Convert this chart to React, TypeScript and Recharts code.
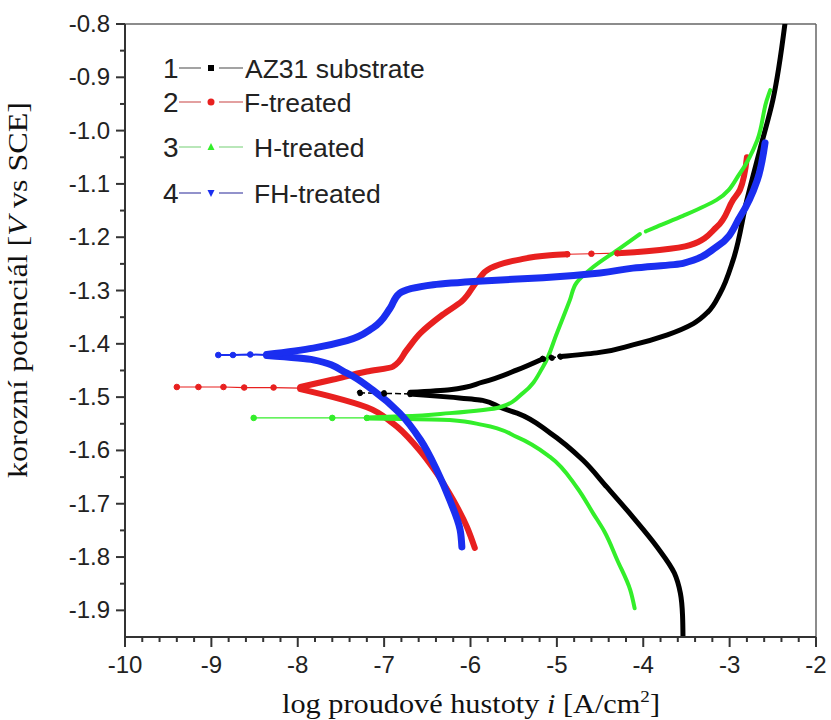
import { Line, LineChart, ReferenceLine, XAxis, YAxis } from "recharts";

// Tafel curves, log i [A/cm2] vs potential [V vs SCE].
// Each sample is split into cathodic branch (from Ecorr down) and anodic branch (from Ecorr up).
const az31CathLogI = [-6.7, -6.24, -5.86, -5.66, -5.46, -5.08, -4.7, -4.42, -4.12, -3.84, -3.64, -3.57, -3.545, -3.54];
const az31CathE = [-1.494, -1.5, -1.506, -1.519, -1.53, -1.567, -1.618, -1.669, -1.725, -1.781, -1.83, -1.868, -1.91, -1.95];
const az31AnLowLogI = [-6.7, -6.24, -5.86, -5.46, -5.16];
const az31AnLowE = [-1.491, -1.486, -1.472, -1.449, -1.428];
const az31GapLogI = [-5.16, -5.06, -4.96];
const az31GapE = [-1.428, -1.426, -1.424];
const az31AnHighLogI = [-4.96, -4.54, -4.12, -3.72, -3.42, -3.25, -3.11, -2.96, -2.8, -2.65, -2.5, -2.36];
const az31AnHighE = [-1.424, -1.417, -1.402, -1.383, -1.362, -1.34, -1.305, -1.243, -1.13, -1.036, -0.943, -0.8];
const az31SpikeLogI = [-6.7, -7.0, -7.28];
const az31SpikeE = [-1.494, -1.493, -1.492];

const fCathLogI = [-7.97, -7.59, -7.2, -6.9, -6.62, -6.39, -6.2, -6.04, -5.95];
const fCathE = [-1.485, -1.5, -1.519, -1.549, -1.594, -1.643, -1.693, -1.744, -1.783];
const fAnLowLogI = [-7.97, -7.59, -7.2, -6.9, -6.74, -6.58, -6.32, -6.1, -5.92, -5.77, -5.46, -5.08, -4.88];
const fAnLowE = [-1.481, -1.467, -1.452, -1.443, -1.412, -1.38, -1.345, -1.32, -1.282, -1.258, -1.243, -1.234, -1.232];
const fGapLogI = [-4.88, -4.6, -4.3];
const fGapE = [-1.232, -1.231, -1.23];
const fAnHighLogI = [-4.3, -4.1, -3.81, -3.46, -3.15, -2.96, -2.88, -2.8];
const fAnHighE = [-1.23, -1.228, -1.224, -1.215, -1.181, -1.13, -1.111, -1.05];
const fSpikeLogI = [-7.97, -8.28, -8.62, -8.86, -9.15, -9.4];
const fSpikeE = [-1.483, -1.482, -1.482, -1.481, -1.481, -1.481];

const hCathLogI = [-7.2, -6.8, -6.24, -5.86, -5.46, -5.08, -4.77, -4.58, -4.45, -4.3, -4.15, -4.1];
const hCathE = [-1.54, -1.541, -1.543, -1.552, -1.575, -1.612, -1.669, -1.718, -1.752, -1.806, -1.862, -1.896];
const hAnLowLogI = [-7.2, -6.8, -6.24, -5.66, -5.39, -5.16, -5.0, -4.85, -4.77, -4.58, -4.3, -4.04];
const hAnLowE = [-1.538, -1.536, -1.53, -1.519, -1.492, -1.443, -1.38, -1.318, -1.285, -1.256, -1.224, -1.194];
const hAnHighLogI = [-3.97, -3.84, -3.54, -3.15, -2.88, -2.68, -2.57, -2.53];
const hAnHighE = [-1.189, -1.18, -1.16, -1.13, -1.08, -1.018, -0.943, -0.924];
const hSpikeLogI = [-7.2, -7.6, -8.51];
const hSpikeE = [-1.539, -1.539, -1.539];

const fhCathLogI = [-8.36, -7.82, -7.43, -7.13, -6.82, -6.58, -6.39, -6.24, -6.12, -6.1];
const fhCathE = [-1.422, -1.43, -1.455, -1.487, -1.53, -1.58, -1.637, -1.693, -1.749, -1.781];
const fhAnLogI = [-8.36, -7.82, -7.43, -7.13, -6.93, -6.82, -6.43, -5.86, -5.16, -4.5, -4.12, -3.54, -3.15, -2.88, -2.68, -2.59];
const fhAnE = [-1.42, -1.408, -1.394, -1.37, -1.333, -1.305, -1.289, -1.282, -1.276, -1.267, -1.258, -1.249, -1.218, -1.162, -1.093, -1.023];
const fhSpikeLogI = [-8.36, -8.55, -8.75, -8.92];
const fhSpikeE = [-1.421, -1.42, -1.421, -1.421];

const xMajor = [-10, -9, -8, -7, -6, -5, -4, -3, -2];
const yMajor = [-1.9, -1.8, -1.7, -1.6, -1.5, -1.4, -1.3, -1.2, -1.1, -1.0, -0.9, -0.8];

const legendNames = ["AZ31 substrate", "F-treated", "H-treated", "FH-treated"];

const BLACK = "#000000";
const RED = "#e8201f";
const GREEN = "#33ee2a";
const BLUE = "#1a2ef0";

const zip = (xs: number[], ys: number[]) => xs.map((v, i) => ({ v, p: ys[i] }));

// minor ticks: 5 per decade on x, 2 per 0.1 V on y
const xTicks: number[] = [];
for (let i = 0; i <= 40; i++) xTicks.push(Math.round((-10 + i * 0.2) * 100) / 100);
const yTicks: number[] = [];
for (let i = 0; i <= 22; i++) yTicks.push(Math.round((-1.9 + i * 0.05) * 100) / 100);

const AXIS = "#333";
const SANS = "'Liberation Sans', Arial, sans-serif";
const SERIF = "'Liberation Serif', 'Times New Roman', serif";

function XTick(props: any) {
  const { x, y, payload } = props;
  const v = payload.value;
  const major = xMajor.some((m) => Math.abs(m - v) < 1e-6);
  return (
    <g>
      <line x1={x} x2={x} y1={y} y2={y + (major ? 10 : 5)} stroke={AXIS} strokeWidth={2} />
      {major && (
        <text x={x} y={y + 36} textAnchor="middle" fontSize={24} fontFamily={SANS} fill="#222">
          {v}
        </text>
      )}
    </g>
  );
}

function YTick(props: any) {
  const { x, y, payload } = props;
  const v = payload.value;
  const major = yMajor.some((m) => Math.abs(m - v) < 1e-6);
  return (
    <g>
      <line x1={x} x2={x - (major ? 9 : 5)} y1={y} y2={y} stroke={AXIS} strokeWidth={2} />
      {major && (
        <text x={x - 15} y={y + 8} textAnchor="end" fontSize={24} fontFamily={SANS} fill="#222">
          {v.toFixed(1)}
        </text>
      )}
    </g>
  );
}

function Marker({ kind, x, y, color }: { kind: number; x: number; y: number; color: string }) {
  if (kind === 0) return <rect x={x - 3} y={y - 3} width={6} height={6} fill={color} />;
  if (kind === 1) return <circle cx={x} cy={y} r={3.5} fill={color} />;
  if (kind === 2) return <path d={`M${x},${y - 4} L${x + 3.5},${y + 3} L${x - 3.5},${y + 3} Z`} fill={color} />;
  return <path d={`M${x},${y + 4} L${x + 3.5},${y - 3} L${x - 3.5},${y - 3} Z`} fill={color} />;
}

const legendRows = [68, 102, 147, 193];
const legendColors = ["#666", "#d06060", "#8ad88a", "#4a4aa8"];
const markerColors = [BLACK, RED, GREEN, BLUE];
const legendTextX = [245, 244, 254, 254];

export default function App() {
  const thick = (xs: number[], ys: number[], color: string, width: number, key: string) => (
    <Line
      key={key}
      data={zip(xs, ys)}
      dataKey="p"
      type="monotoneY"
      stroke={color}
      strokeWidth={width}
      strokeLinecap="round"
      strokeLinejoin="round"
      dot={false}
      isAnimationActive={false}
    />
  );
  const thin = (xs: number[], ys: number[], color: string, width: number, key: string, dash?: string) => (
    <Line
      key={key}
      data={zip(xs, ys)}
      dataKey="p"
      stroke={color}
      strokeWidth={width}
      strokeDasharray={dash}
      dot={{ r: 2.8, fill: color, stroke: color, strokeWidth: 1 }}
      isAnimationActive={false}
    />
  );
  return (
    <div style={{ position: "absolute", left: 0, top: 0, width: 831, height: 720, background: "#fff" }}>
      <LineChart width={831} height={720} margin={{ top: 24, right: 15, bottom: 53, left: 65 }}>
        <XAxis
          dataKey="v"
          type="number"
          domain={[-10, -2]}
          ticks={xTicks}
          interval={0}
          height={30}
          tickSize={0}
          tickMargin={0}
          tick={<XTick />}
          axisLine={{ stroke: AXIS, strokeWidth: 2 }}
          allowDataOverflow
        />
        <YAxis
          type="number"
          domain={[-1.95, -0.8]}
          ticks={yTicks}
          interval={0}
          width={60}
          tickSize={0}
          tickMargin={0}
          tick={<YTick />}
          axisLine={{ stroke: AXIS, strokeWidth: 2 }}
          allowDataOverflow
        />
        <ReferenceLine y={-0.8} stroke="#666" strokeWidth={1.5} />
        <ReferenceLine x={-2} stroke="#666" strokeWidth={1.5} />

        {thin(az31SpikeLogI, az31SpikeE, BLACK, 1.5, "k0", "6 3")}
        {thin(az31GapLogI, az31GapE, BLACK, 1.5, "k1", "5 3")}
        {thick(az31CathLogI, az31CathE, BLACK, 5, "k2")}
        {thick(az31AnLowLogI, az31AnLowE, BLACK, 5, "k3")}
        {thick(az31AnHighLogI, az31AnHighE, BLACK, 5, "k4")}

        {thin(fSpikeLogI, fSpikeE, RED, 1.2, "r0")}
        {thin(fGapLogI, fGapE, RED, 1.2, "r1")}
        {thick(fCathLogI, fCathE, RED, 6, "r2")}
        {thick(fAnLowLogI, fAnLowE, RED, 6, "r3")}
        {thick(fAnHighLogI, fAnHighE, RED, 6, "r4")}

        {thin(hSpikeLogI, hSpikeE, GREEN, 1.2, "g0")}
        {thick(hCathLogI, hCathE, GREEN, 4, "g1")}
        {thick(hAnLowLogI, hAnLowE, GREEN, 4, "g2")}
        {thick(hAnHighLogI, hAnHighE, GREEN, 4, "g3")}

        {thin(fhSpikeLogI, fhSpikeE, BLUE, 2, "b0")}
        {thick(fhCathLogI, fhCathE, BLUE, 7, "b1")}
        {thick(fhAnLogI, fhAnE, BLUE, 7, "b2")}
      </LineChart>

      <svg width={831} height={720} style={{ position: "absolute", left: 0, top: 0, pointerEvents: "none" }}>
        {legendNames.map((name, i) => {
          const y = legendRows[i];
          return (
            <g key={name}>
              <text x={163} y={y + 10} fontSize={28} fontFamily={SANS} fill="#222">
                {i + 1}
              </text>
              <line x1={179} x2={201} y1={y} y2={y} stroke={legendColors[i]} strokeWidth={1.2} />
              <Marker kind={i} x={211} y={y} color={markerColors[i]} />
              <line x1={219} x2={243} y1={y} y2={y} stroke={legendColors[i]} strokeWidth={1.2} />
              <text x={legendTextX[i]} y={y + 10} fontSize={26.5} fontFamily={SANS} fill="#222">
                {name}
              </text>
            </g>
          );
        })}

        <text x={471} y={713} textAnchor="middle" fontSize={27} fontFamily={SERIF} fill="#111" textLength={378} lengthAdjust="spacingAndGlyphs">
          log proudové hustoty <tspan fontStyle="italic">i</tspan> [A/cm
          <tspan fontSize={17} dy={-11}>2</tspan>
          <tspan dy={11}>]</tspan>
        </text>
        <text
          transform="translate(27,290) rotate(-90)"
          x={0}
          y={0}
          textAnchor="middle"
          fontSize={27}
          fontFamily={SERIF}
          fill="#111"
          textLength={376}
          lengthAdjust="spacingAndGlyphs"
        >
          korozní potenciál [<tspan fontStyle="italic">V</tspan> vs SCE]
        </text>
      </svg>
    </div>
  );
}
